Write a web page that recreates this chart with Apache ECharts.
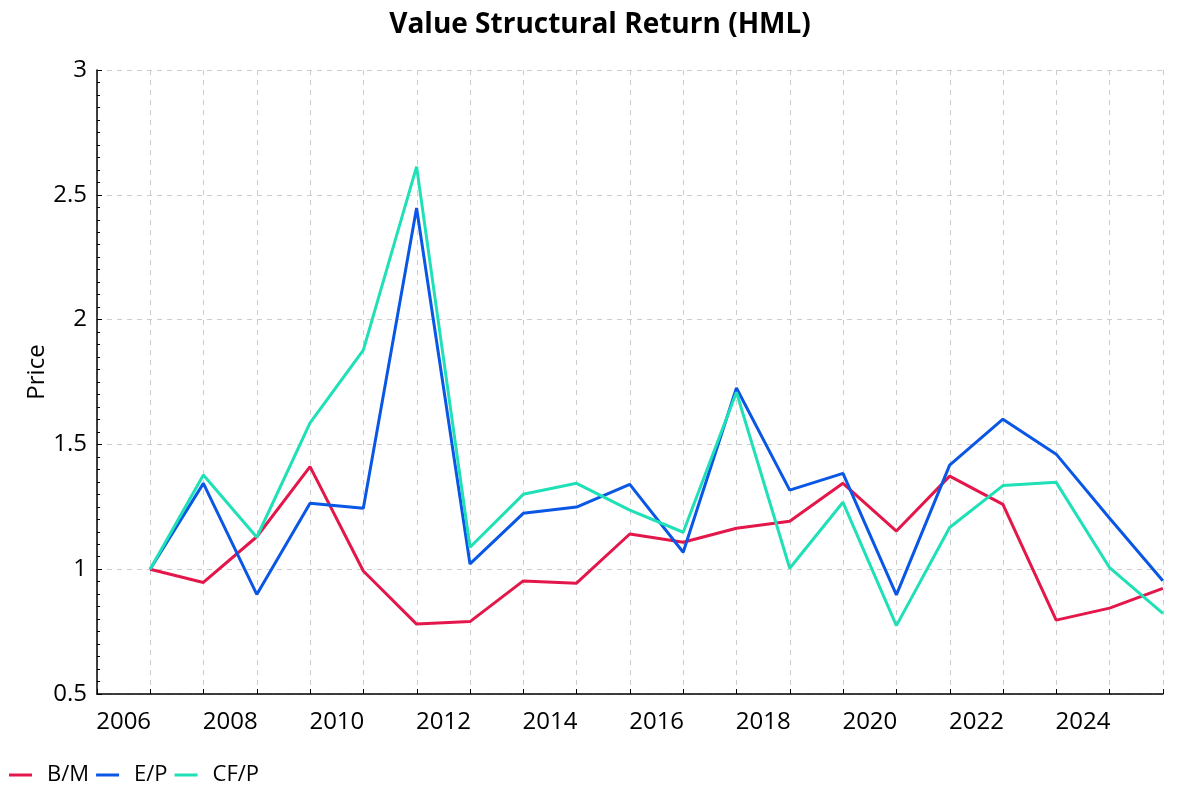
<!DOCTYPE html>
<html>
<head>
<meta charset="utf-8">
<script src="https://cdn.jsdelivr.net/npm/echarts@6/dist/echarts.min.js"></script>
<style>html,body{margin:0;padding:0;background:#fff}#c{width:1200px;height:800px}</style>
</head>
<body>
<div id="c"></div>
<script>
const years = [2006,2007,2008,2009,2010,2011,2012,2013,2014,2015,2016,2017,2018,2019,2020,2021,2022,2023,2024,2025];
const bm  = [1.00,0.947,1.130,1.411,0.993,0.780,0.790,0.953,0.944,1.141,1.108,1.164,1.192,1.344,1.153,1.373,1.260,0.796,0.844,0.923];
const ep  = [1.00,1.344,0.899,1.264,1.244,2.447,1.021,1.224,1.249,1.340,1.068,1.726,1.317,1.384,0.897,1.417,1.601,1.461,1.204,0.954];
const cfp = [1.00,1.377,1.128,1.586,1.878,2.613,1.088,1.300,1.344,1.237,1.148,1.709,1.004,1.268,0.774,1.167,1.335,1.348,1.006,0.823];
const yTicks = [0.5, 1, 1.5, 2, 2.5, 3];
const seriesNames = ['B/M', 'E/P', 'CF/P'];
const colors = ['#e3174a', '#0a57e6', '#1fe0b6'];

const FONT = 'Open Sans';
const chart = echarts.init(document.getElementById('c'), null, {renderer: 'canvas'});
const toPts = arr => arr.map((v, i) => [years[i] + '-12-31', v]);

chart.setOption({
  animation: false,
  color: colors,
  title: {
    text: 'Value Structural Return (HML)',
    left: 'center', top: 6,
    textStyle: {fontFamily: FONT, fontWeight: 'bold', fontSize: 28, color: '#000'}
  },
  legend: {
    left: 4, bottom: 9,
    icon: 'rect',
    itemWidth: 23, itemHeight: 3, itemGap: 7,
    data: seriesNames,
    textStyle: {fontFamily: FONT, fontSize: 22, color: '#000', padding: [0, 0, 0, 10]}
  },
  grid: {left: 97, right: 37, top: 70, bottom: 106, containLabel: false},
  xAxis: [
    {
      type: 'category',
      data: years.map(String),
      boundaryGap: true,
      axisLine: {show: true, lineStyle: {color: '#000', width: 1.5}},
      axisTick: {show: true, inside: true, length: 5, interval: 0, lineStyle: {color: '#000'}},
      axisLabel: {interval: 1, margin: 16, fontFamily: FONT, fontSize: 24, color: '#000'},
      splitLine: {show: true, interval: 0, lineStyle: {color: '#cccccc', type: [5, 5]}}
    },
    {
      type: 'time',
      show: false,
      min: '2006-01-01',
      max: '2026-01-01',
      splitLine: {show: false}
    }
  ],
  yAxis: {
    type: 'value',
    min: 0.5, max: 3, interval: 0.5,
    name: 'Price',
    nameLocation: 'middle',
    nameGap: 54,
    nameMoveOverlap: false,
    nameTextStyle: {fontFamily: FONT, fontSize: 24, color: '#000', padding: [0, 0, -6, 20]},
    axisLine: {show: true, lineStyle: {color: '#000', width: 1.5}},
    axisTick: {show: true, inside: true, length: 5, lineStyle: {color: '#000'}},
    minorTick: {show: true, splitNumber: 10, length: 3, lineStyle: {color: '#000'}},
    axisLabel: {margin: 10, fontFamily: FONT, fontSize: 24, color: '#000',
      formatter: v => yTicks.includes(v) ? String(v) : ''},
    splitLine: {show: true, lineStyle: {color: '#cccccc', type: [5, 5]}}
  },
  series: [bm, ep, cfp].map((arr, i) => ({
    name: seriesNames[i],
    type: 'line',
    xAxisIndex: 1,
    data: toPts(arr),
    showSymbol: false,
    symbol: 'none',
    lineStyle: {width: 3, color: colors[i]},
    itemStyle: {color: colors[i]},
    emphasis: {disabled: true}
  }))
});
</script>
</body>
</html>
